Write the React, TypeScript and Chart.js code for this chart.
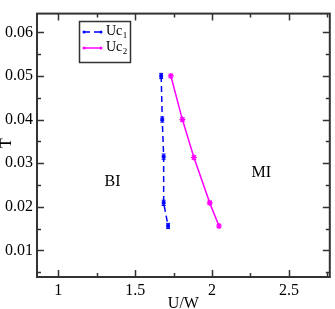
import React, { useEffect, useRef } from "react";
import { Chart, registerables } from "chart.js";

Chart.register(...registerables);

const uc1U = [1.669, 1.676, 1.685, 1.685, 1.714];
const uc1T = [0.05, 0.04, 0.0315, 0.0209, 0.0156];
const uc1Err = [0.0006, 0.0006, 0.0006, 0.0006, 0.0006];
const uc2U = [1.732, 1.807, 1.882, 1.985, 2.045];
const uc2T = [0.05, 0.04, 0.0313, 0.0209, 0.0156];
const uc2Err = [0.0004, 0.0004, 0.0004, 0.0004, 0.0004];
const xTicks = [1, 1.5, 2, 2.5];
const yTicks = [0.01, 0.02, 0.03, 0.04, 0.05, 0.06];
const seriesNames = ["Uc", "Uc"];
const seriesSubs = ["1", "2"];
const regionLabels = ["BI", "MI"];
const regionU = [1.352, 2.32];
const regionT = [0.0257, 0.0277];

const FONT = '"Liberation Serif", "Times New Roman", serif';
const FRAME = "#333333";

const overlay = {
  id: "overlay",
  afterDatasetsDraw(chart: any) {
    const ctx = chart.ctx;
    const { left, right, top, bottom } = chart.chartArea;
    const xs = chart.scales.x;
    const ys = chart.scales.y;
    ctx.save();
    // error bars
    const errs = [uc1Err, uc2Err];
    chart.data.datasets.forEach((ds: any, i: number) => {
      ctx.strokeStyle = ds.borderColor;
      ctx.lineWidth = 1;
      ds.data.forEach((p: any, j: number) => {
        const px = xs.getPixelForValue(p.x);
        const y1 = ys.getPixelForValue(p.y + errs[i][j]);
        const y2 = ys.getPixelForValue(p.y - errs[i][j]);
        ctx.beginPath();
        ctx.moveTo(px, y1);
        ctx.lineTo(px, y2);
        ctx.moveTo(px - 2, y1);
        ctx.lineTo(px + 2, y1);
        ctx.moveTo(px - 2, y2);
        ctx.lineTo(px + 2, y2);
        ctx.stroke();
      });
    });
    // frame
    ctx.strokeStyle = FRAME;
    ctx.lineWidth = 2;
    ctx.strokeRect(left, top, right - left, bottom - top);
    // ticks
    ctx.lineWidth = 1.5;
    const maj = 7;
    const min = 4;
    const xMinor = [1.25, 1.75, 2.25, 2.75];
    const yMinor = [0.005, 0.015, 0.025, 0.035, 0.045, 0.055];
    ctx.beginPath();
    const xt = (v: number, len: number) => {
      const px = Math.round(xs.getPixelForValue(v)) + 0.5;
      if (px < left || px > right) return;
      ctx.moveTo(px, bottom);
      ctx.lineTo(px, bottom - len);
      ctx.moveTo(px, top);
      ctx.lineTo(px, top + len);
    };
    const yt = (v: number, len: number) => {
      const py = Math.round(ys.getPixelForValue(v)) + 0.5;
      if (py < top || py > bottom) return;
      ctx.moveTo(left, py);
      ctx.lineTo(left + len, py);
      ctx.moveTo(right, py);
      ctx.lineTo(right - len, py);
    };
    xTicks.forEach((v) => xt(v, maj));
    xMinor.forEach((v) => xt(v, min));
    yTicks.forEach((v) => yt(v, maj));
    yMinor.forEach((v) => yt(v, min));
    ctx.stroke();
    // axis titles
    ctx.fillStyle = "#000";
    ctx.font = "16px " + FONT;
    ctx.textAlign = "center";
    ctx.textBaseline = "middle";
    ctx.fillText("U/W", (left + right) / 2, 304);
    ctx.save();
    ctx.translate(7, 143);
    ctx.rotate(-Math.PI / 2);
    ctx.fillText("T", 0, 0);
    ctx.restore();
    // region labels
    regionLabels.forEach((t, i) => {
      ctx.fillText(t, xs.getPixelForValue(regionU[i]), ys.getPixelForValue(regionT[i]));
    });
    // legend
    ctx.strokeStyle = FRAME;
    ctx.lineWidth = 1.5;
    ctx.strokeRect(79.5, 21.5, 51, 41);
    chart.data.datasets.forEach((ds: any, i: number) => {
      const ly = 32 + i * 16;
      ctx.strokeStyle = ds.borderColor;
      ctx.lineWidth = 1.5;
      ctx.setLineDash(ds.borderDash || []);
      ctx.beginPath();
      ctx.moveTo(84, ly);
      ctx.lineTo(101, ly);
      ctx.stroke();
      ctx.setLineDash([]);
      ctx.fillStyle = ds.borderColor;
      [84, 101].forEach((mx) => {
        ctx.beginPath();
        ctx.arc(mx, ly, 1.5, 0, Math.PI * 2);
        ctx.fill();
      });
      ctx.fillStyle = "#000";
      ctx.font = "14px " + FONT;
      ctx.textAlign = "left";
      ctx.textBaseline = "middle";
      ctx.fillText(seriesNames[i], 106, ly - 1);
      const w = ctx.measureText(seriesNames[i]).width;
      ctx.font = "9px " + FONT;
      ctx.fillText(seriesSubs[i], 106 + w + 0.5, ly + 4);
    });
    ctx.restore();
  },
};

export default function App() {
  const ref = useRef<HTMLCanvasElement>(null);
  useEffect(() => {
    document.body.style.margin = "0";
    const chart = new Chart(ref.current!, {
      type: "scatter",
      data: {
        datasets: [
          {
            label: "Uc1",
            data: uc1U.map((u, i) => ({ x: u, y: uc1T[i] })),
            showLine: true,
            borderColor: "#0000ff",
            backgroundColor: "#0000ff",
            borderWidth: 1.5,
            borderDash: [6, 4],
            pointStyle: "rect",
            pointRadius: 2,
            pointBorderWidth: 1,
          },
          {
            label: "Uc2",
            data: uc2U.map((u, i) => ({ x: u, y: uc2T[i] })),
            showLine: true,
            borderColor: "#ff00ff",
            backgroundColor: "#ff00ff",
            borderWidth: 1.5,
            pointStyle: "star",
            pointRadius: 3,
            pointBorderWidth: 1.2,
          },
        ],
      },
      options: {
        animation: false,
        responsive: false,
        maintainAspectRatio: false,
        layout: { padding: { top: 1, right: 2, left: 0, bottom: 0 } },
        plugins: { legend: { display: false }, tooltip: { enabled: false } },
        scales: {
          x: {
            type: "linear",
            min: 0.861,
            max: 2.766,
            grid: { display: false, drawTicks: false },
            border: { display: false },
            afterBuildTicks: (s: any) => {
              s.ticks = xTicks.map((v) => ({ value: v }));
            },
            afterFit: (s: any) => {
              s.height = 32;
            },
            ticks: {
              padding: 4,
              color: "#000",
              font: { family: FONT, size: 16 },
              maxRotation: 0,
              callback: (v: any) => String(v),
            },
          },
          y: {
            type: "linear",
            min: 0.0039,
            max: 0.0643,
            grid: { display: false, drawTicks: false },
            border: { display: false },
            afterBuildTicks: (s: any) => {
              s.ticks = yTicks.map((v) => ({ value: v }));
            },
            afterFit: (s: any) => {
              s.width = 37;
            },
            ticks: {
              padding: 4,
              color: "#000",
              font: { family: FONT, size: 16 },
              callback: (v: any) => String(v),
            },
          },
        },
      },
      plugins: [overlay],
    });
    return () => chart.destroy();
  }, []);
  return (
    <div style={{ position: "absolute", left: 0, top: 0, width: 335, height: 309, background: "#fff" }}>
      <canvas ref={ref} width={335} height={309} style={{ width: 335, height: 309 }} />
    </div>
  );
}
